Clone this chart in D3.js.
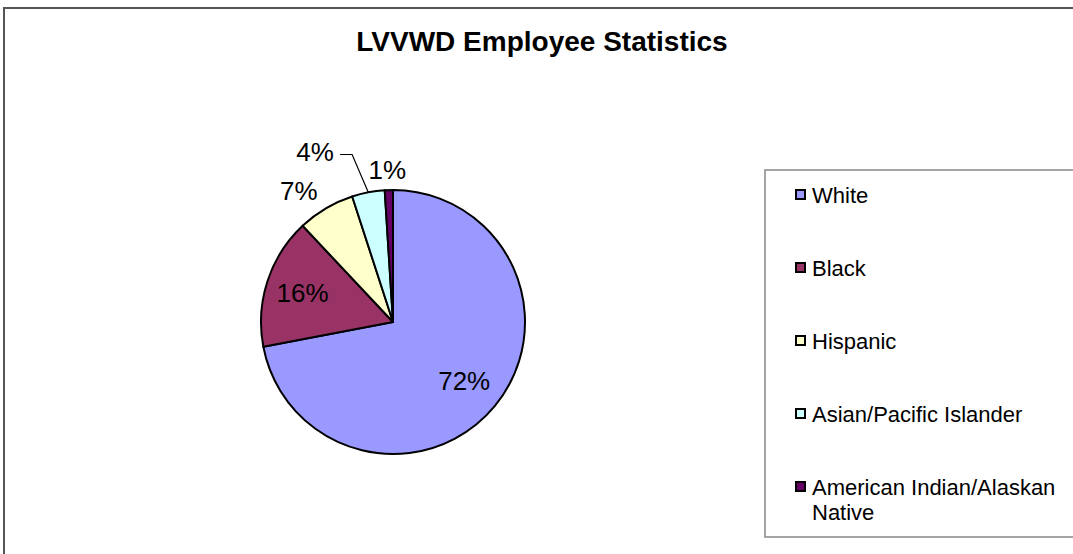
<!DOCTYPE html>
<html>
<head>
<meta charset="utf-8">
<script src="https://cdn.jsdelivr.net/npm/d3@7"></script>
<style>
  body { margin: 0; background: #fff; overflow: hidden; }
  text { font-family: "Liberation Sans", Arial, sans-serif; }
</style>
</head>
<body>
<div id="chart"></div>
<script>
// chart data
var categories = ["White", "Black", "Hispanic", "Asian/Pacific Islander", "American Indian/Alaskan Native"];
var shares = [72, 16, 7, 4, 1];
var sliceColors = ["#9999FF", "#993366", "#FFFFCC", "#CCFFFF", "#660066"];
var legendLines = [["White"], ["Black"], ["Hispanic"], ["Asian/Pacific Islander"], ["American Indian/Alaskan", "Native"]];

var global_width = 1073,
    global_height = 554;

var cx = 393, cy = 322, radius = 132;

// label placement: fraction of radius, and an extra angle shift (radians) for crowded ones
var labelRadius = [0.70, 0.72, 1.22, 1.42, 1.15],
    labelShift = [0, 0, -0.09, -0.24, -0.006];

var svg = d3.select("#chart")
    .append("svg")
    .attr("width", global_width)
    .attr("height", global_height);

// outer chart border (runs past the right/bottom edge)
svg.append("rect")
    .attr("x", 4)
    .attr("y", 8)
    .attr("width", 1100)
    .attr("height", 600)
    .attr("fill", "#fff")
    .attr("stroke", "#555")
    .attr("stroke-width", 2);

// title
svg.append("text")
    .attr("x", 542)
    .attr("y", 51)
    .attr("text-anchor", "middle")
    .attr("font-size", "28px")
    .attr("font-weight", "bold")
    .attr("fill", "#000")
    .text("LVVWD Employee Statistics");

var data = categories.map(function(c, i) {
    return {name: c, value: shares[i], color: sliceColors[i], idx: i};
});

var pie = d3.pie()
    .sort(null)
    .value(function(d) { return d.value; });

var arc = d3.arc()
    .innerRadius(0)
    .outerRadius(radius);

var arcs = pie(data);

var g = svg.append("g")
    .attr("transform", "translate(" + cx + "," + cy + ")");

g.selectAll("path.slice")
    .data(arcs)
    .enter()
    .append("path")
    .attr("class", "slice")
    .attr("d", arc)
    .attr("fill", function(d) { return d.data.color; })
    .attr("stroke", "#000")
    .attr("stroke-width", 2)
    .attr("stroke-linejoin", "round");

// percent labels
function labelPoint(d) {
    var i = d.data.idx;
    var a = (d.startAngle + d.endAngle) / 2 + labelShift[i];
    var r = radius * labelRadius[i];
    return [r * Math.sin(a), -r * Math.cos(a)];
}

g.selectAll("text.pct")
    .data(arcs)
    .enter()
    .append("text")
    .attr("class", "pct")
    .attr("x", function(d) { return labelPoint(d)[0]; })
    .attr("y", function(d) { return labelPoint(d)[1] + 9; })
    .attr("text-anchor", "middle")
    .attr("font-size", "26px")
    .attr("fill", "#000")
    .text(function(d) { return d.data.value + "%"; });

// leader line for the 4% label
var asian = arcs[3];
var midA = (asian.startAngle + asian.endAngle) / 2;
var lp = labelPoint(asian);
var edge = [radius * Math.sin(midA), -radius * Math.cos(midA)];
g.append("path")
    .attr("d", d3.line()([[lp[0] + 25, lp[1] + 3], [lp[0] + 37, lp[1] + 3], edge]))
    .attr("fill", "none")
    .attr("stroke", "#000")
    .attr("stroke-width", 1.2);

// legend
var legend = svg.append("g").attr("id", "legend");

legend.append("rect")
    .attr("x", 765)
    .attr("y", 170)
    .attr("width", 330)
    .attr("height", 367)
    .attr("fill", "#fff")
    .attr("stroke", "#888")
    .attr("stroke-width", 1.5);

var items = legend.selectAll("g.item")
    .data(data)
    .enter()
    .append("g")
    .attr("class", "item")
    .attr("transform", function(d, i) { return "translate(795," + (203 + i * 73) + ")"; });

items.append("rect")
    .attr("x", 1)
    .attr("y", -13)
    .attr("width", 9)
    .attr("height", 9)
    .attr("fill", function(d) { return d.color; })
    .attr("stroke", "#000")
    .attr("stroke-width", 2);

items.append("text")
    .attr("x", 17)
    .attr("y", 0)
    .attr("font-size", "22px")
    .attr("fill", "#000")
    .selectAll("tspan")
    .data(function(d) { return legendLines[d.idx]; })
    .enter()
    .append("tspan")
    .attr("x", 17)
    .attr("dy", function(d, i) { return i === 0 ? 0 : 25; })
    .text(function(d) { return d; });
</script>
</body>
</html>
